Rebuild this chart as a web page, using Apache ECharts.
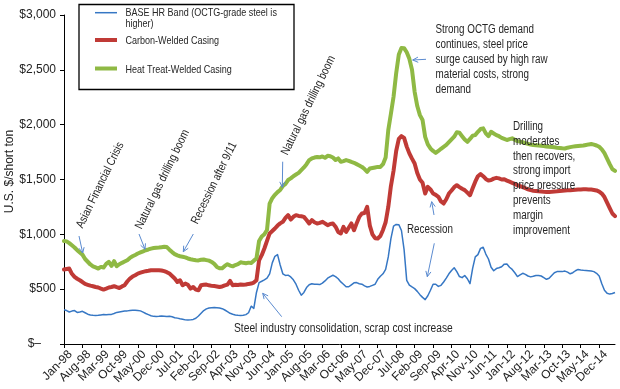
<!DOCTYPE html>
<html>
<head>
<meta charset="utf-8">
<script src="https://cdn.jsdelivr.net/npm/echarts@6/dist/echarts.min.js"></script>
<style>html,body{margin:0;padding:0;background:#fff;}#c{width:620px;height:389px;}</style>
</head>
<body>
<div id="c"></div>
<script>
// ---- data (monthly, Jan-98 .. Jun-15) ----
const startYear = 1998;
const monthNames = ['Jan','Feb','Mar','Apr','May','Jun','Jul','Aug','Sep','Oct','Nov','Dec'];
const nMonths = 210;
const categories = [];
for (let i = 0; i < nMonths; i++) {
  const y = startYear + Math.floor(i / 12);
  categories.push(monthNames[i % 12] + '-' + String(y % 100).padStart(2, '0'));
}
const yTicks = [0, 500, 1000, 1500, 2000, 2500, 3000];

const baseHR = [
  312, 305, 292, 300, 305, 288, 292, 298, 285, 272, 265, 262,
  260, 262, 265, 268, 266, 268, 270, 278, 288, 292, 296, 300,
  302, 305, 308, 307, 305, 302, 290, 278, 268, 258, 252, 250,
  252, 256, 254, 250, 252, 248, 240, 236, 230, 226, 220, 218,
  220, 224, 235, 255, 280, 305, 320, 328, 330, 332, 330, 328,
  322, 310, 295, 280, 272, 265, 262, 260, 262, 268, 285, 345,
  325, 470, 560, 572, 585, 600, 640, 740, 800, 815, 720, 640,
  625, 628, 612, 585, 545, 490, 445, 470, 515, 540, 550, 545,
  545, 542, 555, 575, 600, 615, 627, 615, 595, 566, 545, 522,
  522, 540, 558, 560, 550, 545, 530, 520, 525, 535, 545, 590,
  618, 640, 680, 794, 960, 1075, 1090, 1088, 1035, 860, 580, 536,
  520, 505, 480, 450, 425, 405, 440, 490, 545, 545, 525, 535,
  565, 600, 640, 670, 695, 660, 615, 605, 625, 595, 550, 690,
  795, 815, 872, 882, 820, 775, 700, 668, 688, 695, 705, 728,
  730, 700, 680, 650, 615, 630, 645, 635, 620, 612, 618, 625,
  625, 620, 605, 590, 600, 625, 650, 660, 662, 660, 665, 655,
  640, 650, 668, 680, 675, 672, 670, 668, 665, 660, 645, 620,
  550, 490, 462, 455, 460, 470
];
const carbonWelded = [
  679, 684, 688, 640, 612, 595, 581, 565, 548, 540, 532, 527,
  520, 515, 505, 496, 505, 515, 520, 527, 518, 511, 525, 536,
  570, 597, 615, 627, 642, 650, 658, 664, 668, 673, 673, 672,
  673, 670, 664, 655, 642, 620, 597, 566, 581, 536, 551, 540,
  505, 520, 496, 490, 536, 540, 542, 535, 530, 528, 525, 520,
  525, 535, 542, 575, 536, 540, 538, 542, 540, 542, 548, 551,
  560, 581, 764, 810, 871, 940, 1008, 1030, 1053, 1080, 1100, 1114,
  1150, 1175, 1135, 1160, 1175, 1168, 1165, 1159, 1130, 1099, 1129, 1110,
  1099, 1105, 1114, 1100, 1083, 1095, 1099, 1070, 1022, 1008, 1068, 1022,
  1060, 1099, 1038, 1100, 1159, 1190, 1195, 1250, 1080, 1000, 965, 962,
  985, 1040, 1110, 1250, 1440, 1580, 1760, 1870, 1896, 1880, 1800, 1738,
  1690, 1646, 1560, 1500, 1470, 1372, 1433, 1410, 1372, 1360, 1342, 1300,
  1281, 1320, 1372, 1400, 1430, 1448, 1430, 1415, 1403, 1380, 1357, 1420,
  1480, 1530, 1549, 1530, 1505, 1490, 1495, 1508, 1515, 1510, 1500, 1502,
  1490, 1480, 1470, 1460, 1448, 1440, 1430, 1420, 1410, 1403, 1398, 1395,
  1392, 1390, 1388, 1387, 1387, 1388, 1390, 1392, 1395, 1398, 1400, 1402,
  1403, 1405, 1406, 1408, 1409, 1410, 1410, 1409, 1408, 1405, 1400, 1390,
  1372, 1340, 1290, 1240, 1190, 1166
];
const heatTreatWelded = [
  940, 936, 920, 900, 880, 855, 835, 815, 775, 750, 725, 708,
  698, 688, 703, 697, 730, 748, 712, 755, 709, 727, 740, 752,
  764, 785, 800, 812, 825, 835, 845, 855, 862, 870, 875, 878,
  880, 883, 886, 884, 860, 838, 819, 808, 800, 796, 790, 780,
  773, 768, 764, 762, 768, 770, 765, 760, 748, 730, 703, 690,
  690, 712, 728, 715, 708, 720, 728, 745, 740, 736, 742, 738,
  760, 780, 940, 980, 1000, 1040, 1281, 1330, 1360, 1385, 1405, 1440,
  1460, 1495, 1510, 1530, 1545, 1560, 1585, 1610, 1640, 1677, 1692, 1700,
  1705, 1702, 1710, 1698, 1716, 1712, 1700, 1678, 1692, 1661, 1668, 1677,
  1670, 1660, 1652, 1640, 1628, 1615, 1595, 1570, 1600, 1605, 1610, 1615,
  1615, 1640, 1700, 1950, 2100, 2254, 2468, 2640, 2700, 2698, 2660, 2600,
  2500, 2300, 2170, 2087, 2042, 1889, 1820, 1783, 1760, 1743, 1760, 1780,
  1798, 1815, 1840, 1865, 1890, 1930, 1926, 1895, 1865, 1844, 1870, 1900,
  1905, 1935, 1960, 1966, 1920, 1895, 1935, 1920, 1905, 1895, 1880, 1870,
  1860, 1868, 1875, 1862, 1850, 1845, 1840, 1832, 1825, 1818, 1814, 1812,
  1810, 1808, 1805, 1800, 1798, 1796, 1794, 1790, 1788, 1785, 1783, 1790,
  1795, 1800, 1804, 1806, 1808, 1810, 1815, 1820, 1823, 1818, 1810, 1798,
  1775, 1740, 1690, 1640, 1595, 1578
];
const seriesNames = ['BASE HR Band (OCTG-grade steel is higher)', 'Carbon-Welded Casing', 'Heat Treat-Welded Casing'];
const seriesColors = ['#3677c4', '#c03a36', '#8fb944'];

// ---- styling ----
const SANS = '"Liberation Sans", Arial, sans-serif';
const NX = 0.82;            // horizontal condensing of the narrow annotation font
const TXT = '#262626';
const ARROW = '#5b8bd0';

function arrow(x1, y1, x2, y2) {
  const a = Math.atan2(y2 - y1, x2 - x1), L = 6, w = 0.45;
  return [
    { type: 'line', z: 50, shape: { x1, y1, x2, y2 }, style: { stroke: ARROW, lineWidth: 1 } },
    { type: 'polyline', z: 50, shape: { points: [
      [x2 - L * Math.cos(a - w), y2 - L * Math.sin(a - w)], [x2, y2],
      [x2 - L * Math.cos(a + w), y2 - L * Math.sin(a + w)]] },
      style: { stroke: ARROW, lineWidth: 1, fill: null } }
  ];
}
function rotText(text, x, y, deg) {
  return { type: 'text', z: 50, x, y, scaleX: NX, rotation: deg * Math.PI / 180,
    style: { text, font: '12px ' + SANS, fill: TXT, align: 'left', verticalAlign: 'bottom' } };
}
function blockText(text, x, y, lh, size, va) {
  return { type: 'text', z: 50, x, y, scaleX: NX,
    style: { text, font: (size || 12) + 'px ' + SANS, fill: TXT, align: 'left', verticalAlign: va || 'top', lineHeight: lh } };
}
function legendLine(y, color, w) {
  return { type: 'line', z: 60, shape: { x1: 95, y1: y, x2: 117, y2: y }, style: { stroke: color, lineWidth: w } };
}

const chart = echarts.init(document.getElementById('c'), null, { renderer: 'canvas' });
const graphics = [
  // legend
  { type: 'rect', z: 40, shape: { x: 79, y: 4.5, width: 215, height: 85 }, style: { fill: '#fff', stroke: '#000', lineWidth: 1.3 } },
  legendLine(12.7, seriesColors[0], 1.5),
  legendLine(40, seriesColors[1], 4),
  legendLine(68.5, seriesColors[2], 4),
  blockText('BASE HR Band (OCTG-grade steel is\nhigher)', 125.5, 7.7, 10.7, 11, 'top'),
  blockText(seriesNames[1], 125.5, 41, 12, 11, 'middle'),
  blockText(seriesNames[2], 125.5, 70, 12, 11, 'middle'),
  // annotations
  rotText('Asian Financial Crisis', 85, 230, 64),
  rotText('Natural gas drilling boom', 144, 231, 64),
  rotText('Recession after 9/11', 200, 226, 64),
  rotText('Natural gas drilling boom', 290, 157, 64),
  blockText('Strong OCTG demand\ncontinues, steel price\nsurge caused by high raw\nmaterial costs, strong\ndemand', 435.5, 22.5, 15),
  blockText('Drilling\nmoderates\nthen recovers,\nstrong import\nprice pressure\nprevents\nmargin\nimprovement', 513, 119.3, 14.8),
  blockText('Recession', 407, 222.5, 15),
  blockText('Steel industry consolidation, scrap cost increase', 234, 321, 15, 12.5),
  ...arrow(79, 236, 82.7, 253),
  ...arrow(139, 234, 145, 249.3),
  ...arrow(193.3, 234, 183.3, 251.7),
  ...arrow(282.7, 161.7, 282.3, 187.3),
  ...arrow(281.7, 316.7, 262.7, 293.3),
  ...arrow(434, 215, 431.7, 201.7),
  ...arrow(434.3, 243.3, 427.3, 276.7),
  ...arrow(426, 59.3, 412.7, 60)
];

chart.setOption({
  animation: false,
  backgroundColor: '#fff',
  grid: { left: 64, right: 5, top: 15, bottom: 45, containLabel: false, outerBoundsMode: 'none' },
  xAxis: {
    type: 'category', data: categories, boundaryGap: false,
    axisLine: { lineStyle: { color: '#000', width: 1 } },
    axisTick: { show: true, interval: 6, length: 4, lineStyle: { color: '#000' } },
    axisLabel: { interval: 6, rotate: 45, fontFamily: SANS, fontSize: 12, color: '#222', margin: 2,
      align: 'right', verticalAlign: 'top', padding: [3, 0, 0, 0] },
    splitLine: { show: false }
  },
  yAxis: {
    type: 'value', min: yTicks[0], max: yTicks[yTicks.length - 1], interval: 500,
    name: 'U.S. $/short ton', nameLocation: 'middle', nameRotate: 90, nameGap: 48, nameMoveOverlap: false,
    nameTextStyle: { fontFamily: SANS, fontSize: 12, color: '#222', padding: [0, 0, 0, 16] },
    axisLine: { show: true, lineStyle: { color: '#000', width: 1 } },
    axisTick: { show: true, length: 4, lineStyle: { color: '#000' } },
    axisLabel: {
      fontFamily: SANS, fontSize: 12, color: '#222', margin: 8,
      formatter: v => v === 0 ? '{z|$–}' : '$' + v.toLocaleString('en-US'),
      rich: { z: { fontFamily: SANS, fontSize: 12, color: '#222', padding: [0, 15, 0, 0] } }
    },
    splitLine: { show: false }
  },
  series: [
    { name: seriesNames[0], type: 'line', data: baseHR, symbol: 'none', z: 3,
      lineStyle: { color: seriesColors[0], width: 1.5, join: 'round' }, itemStyle: { color: seriesColors[0] } },
    { name: seriesNames[1], type: 'line', data: carbonWelded, symbol: 'none', z: 4,
      lineStyle: { color: seriesColors[1], width: 4, join: 'round', cap: 'round' }, itemStyle: { color: seriesColors[1] } },
    { name: seriesNames[2], type: 'line', data: heatTreatWelded, symbol: 'none', z: 5,
      lineStyle: { color: seriesColors[2], width: 4, join: 'round', cap: 'round' }, itemStyle: { color: seriesColors[2] } }
  ],
  graphic: graphics
});
</script>
</body>
</html>
